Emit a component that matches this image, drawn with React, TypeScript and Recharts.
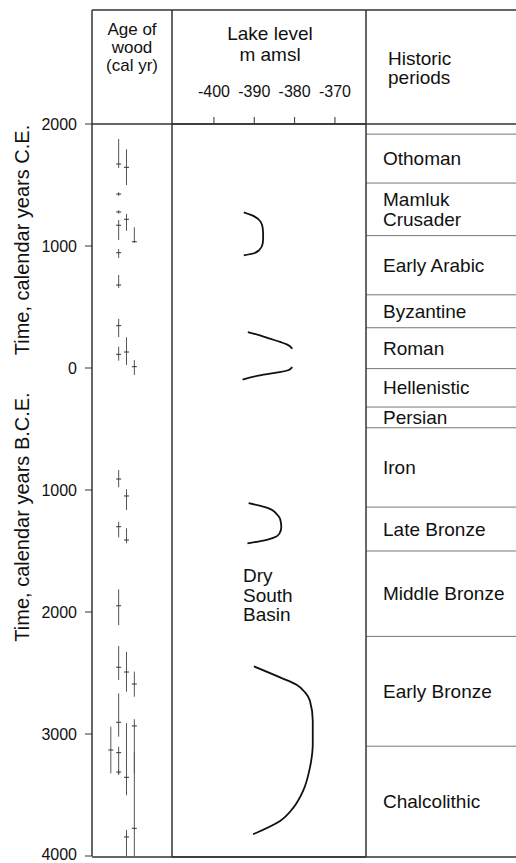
import {
  ComposedChart, LineChart, Line, Scatter, ErrorBar, XAxis, YAxis, ReferenceLine,
} from 'recharts';

// time axis: years, C.E. positive, B.C.E. negative
const timeTicks = [2000, 1000, 0, -1000, -2000, -3000, -4000];
const levelTicks = [-400, -390, -380, -370];

// age of wood: [calibrated age, older limit, younger limit], one array per column
const woodCol0 = [[-3131, -3322, -2940]];
const woodCol1 = [
  [1672, 1639, 1877], [1426, 1410, 1440], [1279, 1265, 1293], [1170, 1049, 1213],
  [945, 902, 975], [680, 656, 762], [347, 254, 402], [112, 60, 175],
  [-910, -978, -836], [-1301, -1388, -1260], [-1949, -2107, -1814], [-2453, -2557, -2279],
  [-2904, -3022, -2667], [-3153, -3336, -3104], [-3312, -3330, -3294],
];
const woodCol2 = [
  [1645, 1500, 1793], [1219, 1125, 1262], [131, 25, 252], [-1049, -1164, -994],
  [-1410, -1437, -1314], [-2492, -2653, -2326], [-3355, -3502, -2912], [-3844, -4000, -3787],
];
const woodCol3 = [
  [1035, 1027, 1153], [11, -57, 65], [-2590, -2694, -2489], [-2934, -3322, -2879], [-3773, -4000, -3150],
];

// lake level curves: [year, level m amsl]
const lakeMedieval = [
  [1276, -392.6], [1240, -389.8], [1199, -388.4], [1145, -387.9], [1076, -387.8],
  [1022, -387.9], [967, -388.8], [940, -390.3], [924, -392.6],
];
const lakeRomanUpper = [[297, -391.6], [270, -388.6], [243, -386.1], [216, -383.6], [194, -381.8], [161, -380.6]];
const lakeRomanLower = [[11, -380.6], [-16, -381.6], [-35, -384.5], [-57, -388.6], [-93, -392.9]];
const lakeIron = [
  [-1104, -391.4], [-1150, -386.1], [-1191, -384.5], [-1232, -383.6], [-1301, -383.3],
  [-1355, -383.8], [-1388, -385.3], [-1404, -386.9], [-1432, -391.7],
];
const lakeEarlyBronze = [
  [-2440, -390.1], [-2530, -383.6], [-2590, -379.5], [-2653, -377.4], [-2721, -376.2], [-2885, -375.5],
  [-3076, -375.5], [-3268, -376.2], [-3459, -377.9], [-3596, -380.3], [-3705, -383.6], [-3814, -390.3],
];

// historic periods, from youngest to oldest, between consecutive boundaries
const periodNames = [
  ['Othoman'], ['Mamluk', 'Crusader'], ['Early Arabic'], ['Byzantine'], ['Roman'], ['Hellenistic'],
  ['Persian'], ['Iron'], ['Late Bronze'], ['Middle Bronze'], ['Early Bronze'], ['Chalcolithic'],
];
const periodBoundaries = [1917, 1516, 1085, 600, 330, -5, -320, -490, -1140, -1500, -2200, -3100, -4000];

const timeDomain = [-4000, 2000];
const levelDomain = [-410.4, -362.3];
const woodDomain = [-2.4, 7.8];

const woodData = [woodCol0, woodCol1, woodCol2, woodCol3].flatMap((col, i) =>
  col.map(([year, older, younger]) => ({ col: i, year, err: [year - older, younger - year] }))
);

// one table for the lake chart, one key per curve
const lakeSeries = { med: lakeMedieval, romU: lakeRomanUpper, romL: lakeRomanLower, iron: lakeIron, eb: lakeEarlyBronze };
const lakeKeys = Object.keys(lakeSeries);
const lakeData = Object.entries(lakeSeries).flatMap(([key, pts]) =>
  pts.map(([year, level]) => ({ year, [key]: level }))
);

// label of each period sits at the middle of its span
const periodData = periodNames.map((lines, i) => ({
  x: 0,
  year: (periodBoundaries[i] + periodBoundaries[i + 1]) / 2,
  lines,
}));

const FONT = '"Liberation Sans", Arial, Helvetica, sans-serif';
const INK = '#111';
const FRAME = '#333';

const WoodMark = (props: any) => {
  const { cx, cy } = props;
  if (cx == null || cy == null) return null;
  return <line x1={cx - 2.5} x2={cx + 2.5} y1={cy} y2={cy} stroke="#333" strokeWidth={1} />;
};

const PeriodLabel = (props: any) => {
  const { cx, cy, payload } = props;
  if (cx == null || cy == null || !payload) return null;
  const lines: string[] = payload.lines;
  const lh = 20;
  const first = cy - ((lines.length - 1) * lh) / 2 + 6.6;
  return (
    <text fontSize={19} fill={INK} fontFamily={FONT}>
      {lines.map((l, i) => (
        <tspan key={i} x={cx + 17} y={first + i * lh}>{l}</tspan>
      ))}
    </text>
  );
};

export default function App() {
  return (
    <div style={{ position: 'absolute', left: 0, top: 0, width: 516, height: 863, background: '#fff', fontFamily: FONT }}>
      {/* left: age of wood + time axis */}
      <div style={{ position: 'absolute', left: 0, top: 0 }}>
        <ComposedChart width={172} height={863} margin={{ top: 124, right: 0, bottom: 7, left: 0 }}>
          <XAxis type="number" dataKey="col" domain={woodDomain} hide allowDataOverflow />
          <YAxis
            type="number"
            dataKey="year"
            domain={timeDomain}
            ticks={timeTicks}
            width={92}
            tickSize={7}
            tickMargin={8}
            tickFormatter={(v: number) => String(Math.abs(v))}
            tick={{ fontSize: 16, fill: INK }}
            axisLine={{ stroke: FRAME, strokeWidth: 1.5 }}
            tickLine={{ stroke: FRAME }}
            allowDataOverflow
          />
          <Scatter data={woodData} shape={WoodMark} isAnimationActive={false}>
            <ErrorBar dataKey="err" direction="y" width={0} stroke="#555" strokeWidth={1} isAnimationActive={false} />
          </Scatter>
        </ComposedChart>
      </div>

      {/* middle: lake level */}
      <div style={{ position: 'absolute', left: 172, top: 0 }}>
        <LineChart width={194} height={863} layout="vertical" data={lakeData} margin={{ top: 84, right: 0, bottom: 6, left: 0 }}>
          <XAxis
            xAxisId="top"
            orientation="top"
            type="number"
            domain={levelDomain}
            ticks={levelTicks}
            height={40}
            tickSize={7}
            tickMargin={20}
            tick={{ fontSize: 16, fill: INK }}
            axisLine={{ stroke: FRAME, strokeWidth: 1.5 }}
            tickLine={{ stroke: FRAME }}
            allowDataOverflow
          />
          <XAxis
            xAxisId="bottom"
            orientation="bottom"
            type="number"
            domain={levelDomain}
            ticks={levelTicks}
            height={1}
            mirror
            tick={false}
            tickSize={7}
            axisLine={{ stroke: FRAME, strokeWidth: 1.5 }}
            tickLine={{ stroke: FRAME }}
            allowDataOverflow
          />
          <YAxis
            yAxisId="time"
            orientation="right"
            type="number"
            dataKey="year"
            domain={timeDomain}
            ticks={timeTicks}
            reversed
            width={0}
            mirror
            tick={false}
            tickSize={5}
            axisLine={{ stroke: FRAME, strokeWidth: 1.5 }}
            tickLine={{ stroke: FRAME }}
            allowDataOverflow
          />
          {lakeKeys.map((k) => (
            <Line
              key={k}
              xAxisId="top"
              yAxisId="time"
              dataKey={k}
              type="monotone"
              stroke={INK}
              strokeWidth={1.8}
              dot={false}
              connectNulls
              isAnimationActive={false}
            />
          ))}
        </LineChart>
      </div>

      {/* right: historic periods */}
      <div style={{ position: 'absolute', left: 366, top: 0 }}>
        <ComposedChart width={150} height={863} margin={{ top: 124, right: 0, bottom: 7, left: 0 }}>
          <XAxis type="number" dataKey="x" domain={[0, 1]} hide allowDataOverflow />
          <YAxis type="number" dataKey="year" domain={timeDomain} hide allowDataOverflow />
          {periodBoundaries.slice(0, -1).map((b) => (
            <ReferenceLine key={'b' + b} y={b} stroke="#777" strokeWidth={1} />
          ))}
          <Scatter data={periodData} shape={PeriodLabel} isAnimationActive={false} />
        </ComposedChart>
      </div>

      {/* frame and headings */}
      <svg width={516} height={863} style={{ position: 'absolute', left: 0, top: 0, pointerEvents: 'none' }}>
        <g stroke={FRAME} strokeWidth={1.5}>
          <line x1={92} y1={10} x2={516} y2={10} />
          <line x1={92} y1={10} x2={92} y2={124} />
          <line x1={172} y1={10} x2={172} y2={857} />
          <line x1={366} y1={10} x2={366} y2={857} />
          <line x1={92} y1={857} x2={516} y2={857} />
          <line x1={92} y1={124} x2={516} y2={124} />
        </g>
        <g fill={INK} fontFamily={FONT} fontSize={19}>
          <text x={132} y={35} textAnchor="middle" fontSize={17}>Age of</text>
          <text x={132} y={53} textAnchor="middle" fontSize={17}>wood</text>
          <text x={132} y={71} textAnchor="middle" fontSize={17}>(cal yr)</text>
          <text x={270} y={40} textAnchor="middle">Lake level</text>
          <text x={270} y={61} textAnchor="middle">m amsl</text>
          <text x={388} y={65}>Historic</text>
          <text x={388} y={84}>periods</text>
          <text x={243} y={582}>Dry</text>
          <text x={243} y={602}>South</text>
          <text x={243} y={621}>Basin</text>
          <text transform="translate(29,240) rotate(-90)" textAnchor="middle" fontSize={20}>Time, calendar years C.E.</text>
          <text transform="translate(29,517) rotate(-90)" textAnchor="middle" fontSize={20}>Time, calendar years B.C.E.</text>
        </g>
      </svg>
    </div>
  );
}
